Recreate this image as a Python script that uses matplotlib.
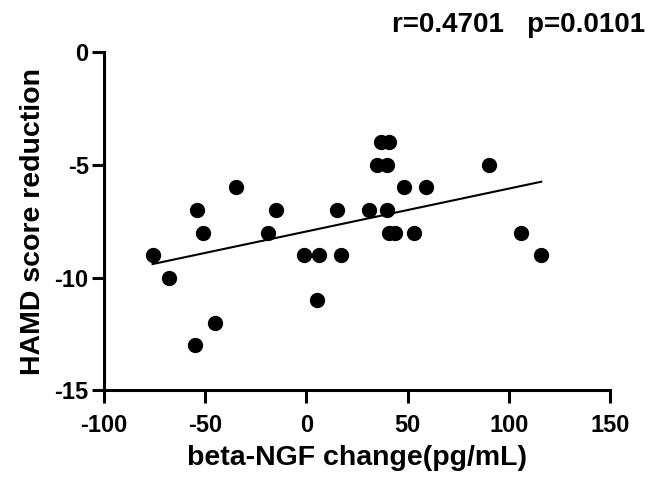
import numpy as np
import matplotlib
matplotlib.use("Agg")
import matplotlib.pyplot as plt

plt.rcParams['font.family'] = ['Liberation Sans', 'DejaVu Sans']
plt.rcParams['font.weight'] = 'bold'
plt.rcParams['axes.unicode_minus'] = False

ngf_change = [-76, -68, -54, -51, -35, -55, -45, -19, -15, -1, 6, 5, 17, 15,
              37, 41, 35, 40, 90, 48, 59, 31, 40, 41, 44, 53, 106, 116]
hamd_reduction = [-9, -10, -7, -8, -6, -13, -12, -8, -7, -9, -9, -11, -9, -7,
                  -4, -4, -5, -5, -5, -6, -6, -7, -7, -8, -8, -8, -8, -9]
x_ticks = [-100, -50, 0, 50, 100, 150]
y_ticks = [-15, -10, -5, 0]
stats_text = "r=0.4701   p=0.0101"

x = np.array(ngf_change, dtype=float)
y = np.array(hamd_reduction, dtype=float)

fig = plt.figure(figsize=(6.48, 4.79), dpi=100)
ax = fig.add_axes([0.1605, 0.1858, 0.7809, 0.7046])

ax.plot(x, y, 'o', color='black', markersize=10, zorder=3, clip_on=False)
slope, intercept = np.polyfit(x, y, 1)
xl = np.array([x.min(), x.max()])
ax.plot(xl, slope * xl + intercept, color='black', lw=1.5, zorder=2)

ax.set_xlim(-100, 150)
ax.set_ylim(-15, 0)
ax.set_xticks(x_ticks)
ax.set_yticks(y_ticks)
ax.set_xticklabels([str(v) for v in x_ticks])
ax.set_yticklabels([str(v) for v in y_ticks])
for s in ['top', 'right']:
    ax.spines[s].set_visible(False)
for s in ['left', 'bottom']:
    ax.spines[s].set_linewidth(2.2)
ax.tick_params(width=2.2, length=9, labelsize=17, direction='out')
ax.tick_params(axis='x', pad=8)
ax.tick_params(axis='y', pad=2)
for lab in ax.get_xticklabels() + ax.get_yticklabels():
    lab.set_fontweight('bold')

ax.set_xlabel("beta-NGF change(pg/mL)", fontsize=20.5, fontweight='bold', labelpad=6)
ax.set_ylabel("HAMD score reduction", fontsize=20.5, fontweight='bold', labelpad=6)
fig.text(0.996, 0.948, stats_text, ha='right', va='center', fontsize=20, fontweight='bold')

fig.savefig("out.png", dpi=100)
